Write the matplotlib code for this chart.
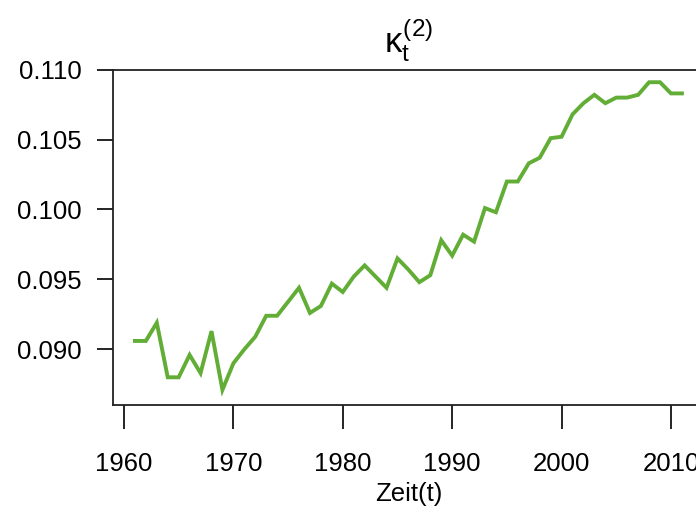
import matplotlib.pyplot as plt

# Jahre und geschaetzte kappa_t^(2) Werte
years = list(range(1961, 2012))
kappa2 = [0.0906, 0.0906, 0.0919, 0.0880, 0.0880, 0.0896, 0.0883, 0.0913, 0.0871, 0.0890,
          0.0900, 0.0909, 0.0924, 0.0924, 0.0934, 0.0944, 0.0926, 0.0931, 0.0947, 0.0941,
          0.0952, 0.0960, 0.0952, 0.0944, 0.0965, 0.0957, 0.0948, 0.0953, 0.0978, 0.0967,
          0.0982, 0.0977, 0.1001, 0.0998, 0.1020, 0.1020, 0.1033, 0.1037, 0.1051, 0.1052,
          0.1068, 0.1076, 0.1082, 0.1076, 0.1080, 0.1080, 0.1082, 0.1091, 0.1091, 0.1083,
          0.1083]
xticks = [1960, 1970, 1980, 1990, 2000, 2010]
yticks = [0.090, 0.095, 0.100, 0.105, 0.110]

plt.rcParams['font.family'] = ['Liberation Sans', 'DejaVu Sans']
plt.rcParams['mathtext.fontset'] = 'custom'
plt.rcParams['mathtext.rm'] = 'Liberation Sans'
plt.rcParams['mathtext.it'] = 'Liberation Sans'

fig = plt.figure(figsize=(6.96, 5.12), dpi=100)
ax = fig.add_axes([0.1624, 0.209, 0.8488, 0.655])

ax.plot(years, kappa2, color='#62ad36', lw=2.8, solid_joinstyle='miter')

ax.set_xlim(1959, 2013)
ax.set_ylim(0.08602, 0.1100)
ax.set_xticks(xticks)
ax.set_yticks(yticks)
ax.set_yticklabels(['%.3f' % v for v in yticks])

ax.tick_params(axis='x', length=17, width=1.2, pad=17, labelsize=18.5)
ax.tick_params(axis='y', length=11.5, width=1.2, pad=11, labelsize=18.5)
for s in ax.spines.values():
    s.set_linewidth(1.3)
    s.set_color('#222222')

ax.set_xlabel('Zeit(t)', fontsize=18.5, labelpad=4)
ax.set_title('$κ_t^{(2)}$', fontsize=25, pad=12)

fig.savefig('out.png', dpi=100)
